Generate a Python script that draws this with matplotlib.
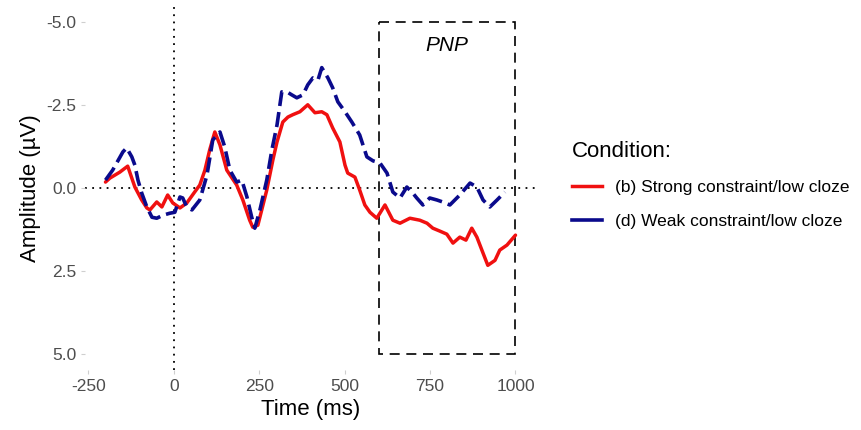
import matplotlib.pyplot as plt
from matplotlib.lines import Line2D
from matplotlib.patches import Rectangle

plt.rcParams['font.family'] = ['Liberation Sans', 'DejaVu Sans']

# Condition (b): strong constraint / low cloze
time_b = [-200, -187, -158, -135, -114, -94, -79, -70, -50, -35, -18, -3, 18, 38,
          61, 76, 91, 105, 120, 135, 155, 184, 202, 222, 231, 246, 261, 272, 290,
          302, 319, 334, 348, 369, 392, 413, 433, 448, 465, 486, 501, 509, 530,
          544, 559, 574, 594, 618, 641, 662, 691, 720, 741, 758, 779, 799, 817,
          837, 855, 872, 887, 905, 919, 940, 954, 975, 1000]
amp_b = [-0.18, -0.30, -0.48, -0.66, -0.03, 0.36, 0.60, 0.66, 0.42, 0.57, 0.21,
         0.45, 0.60, 0.45, 0.12, -0.09, -0.54, -1.15, -1.69, -1.30, -0.54, -0.09,
         0.36, 0.97, 1.18, 1.12, 0.51, 0.06, -0.85, -1.39, -1.99, -2.14, -2.21,
         -2.30, -2.51, -2.27, -2.30, -2.21, -1.81, -1.39, -0.69, -0.45, -0.33,
         0.06, 0.51, 0.73, 0.91, 0.51, 0.97, 1.06, 0.91, 0.97, 1.06, 1.21, 1.30,
         1.39, 1.66, 1.48, 1.57, 1.21, 1.48, 1.96, 2.33, 2.18, 1.87, 1.72, 1.42]

# Condition (d): weak constraint / low cloze
time_d = [-200, -179, -167, -149, -138, -123, -114, -105, -94, -79, -64, -50, -32,
          -12, 3, 18, 26, 38, 53, 76, 97, 114, 135, 149, 164, 184, 199, 214, 228,
          237, 252, 272, 287, 302, 316, 331, 345, 360, 378, 392, 407, 422, 433,
          451, 465, 480, 501, 521, 544, 565, 583, 603, 624, 641, 662, 682, 697,
          711, 729, 749, 770, 787, 808, 837, 867, 887, 905, 925, 946, 969]
amp_d = [-0.24, -0.54, -0.76, -1.09, -1.21, -0.94, -0.69, -0.24, 0.15, 0.57, 0.88,
         0.91, 0.82, 0.76, 0.73, 0.27, 0.30, 0.57, 0.66, 0.36, -0.39, -1.45, -1.69,
         -1.24, -0.54, -0.18, -0.24, 0.27, 0.88, 1.21, 0.66, -0.24, -1.15, -1.90,
         -2.90, -2.90, -2.81, -2.72, -2.81, -3.11, -3.32, -3.26, -3.63, -3.32,
         -3.02, -2.60, -2.30, -1.99, -1.60, -0.94, -0.82, -0.76, -0.45, 0.12, 0.30,
         -0.03, 0.12, 0.30, 0.51, 0.30, 0.36, 0.42, 0.51, 0.21, -0.15, -0.03,
         0.36, 0.57, 0.36, 0.12]

labels = ['(b) Strong constraint/low cloze', '(d) Weak constraint/low cloze']
x_ticks = [-250, 0, 250, 500, 750, 1000]
y_ticks = [-5.0, -2.5, 0.0, 2.5, 5.0]
pnp_window = (600, 1000)

fig = plt.figure(figsize=(8.62, 4.30), dpi=100)
ax = fig.add_axes([0.0986, 0.1384, 0.5232, 0.8486])

ax.axhline(0, color='black', lw=1.3, ls=(0, (1, 3)), zorder=1)
ax.axvline(0, color='black', lw=1.3, ls=(0, (1, 3)), zorder=1)

ax.plot(time_b, amp_b, color='#f01010', lw=2.5, solid_capstyle='round', zorder=3)
ax.plot(time_d, amp_d, color='#0a0a8c', lw=2.6, dashes=(4.2, 1.7), zorder=3)

rect = Rectangle((pnp_window[0], -5), pnp_window[1] - pnp_window[0], 10,
                 fill=False, ec='black', lw=1.2, ls=(0, (6, 4)), zorder=2)
ax.add_patch(rect)
ax.text(sum(pnp_window) / 2, -4.3, 'PNP', style='italic', fontsize=15,
        ha='center', va='center')

ax.set_xlim(-260, 1060)
ax.set_ylim(5.5, -5.5)
ax.set_xticks(x_ticks)
ax.set_xticklabels([str(v) for v in x_ticks])
ax.set_yticks(y_ticks)
ax.set_yticklabels([f'{v:.1f}' for v in y_ticks])
ax.tick_params(colors='#cfcfcf', labelcolor='#4d4d4d', labelsize=12.5,
               length=3, width=0.8, pad=3)
for s in ax.spines.values():
    s.set_visible(False)

ax.set_xlabel('Time (ms)', fontsize=16, labelpad=4)
ax.set_ylabel('Amplitude (\u00b5V)', fontsize=16, labelpad=4)

handles = [Line2D([], [], color='#f01010', lw=2.5),
           Line2D([], [], color='#0a0a8c', lw=2.6)]
leg = fig.legend(handles, labels, title='Condition:', loc='center left',
                 bbox_to_anchor=(0.6636, 0.57), frameon=False, fontsize=12.5,
                 title_fontsize=16, handlelength=1.7, handletextpad=0.8,
                 labelspacing=1.05, borderpad=0, borderaxespad=0)
leg._legend_box.align = 'left'

fig.savefig('out.png', dpi=100)
